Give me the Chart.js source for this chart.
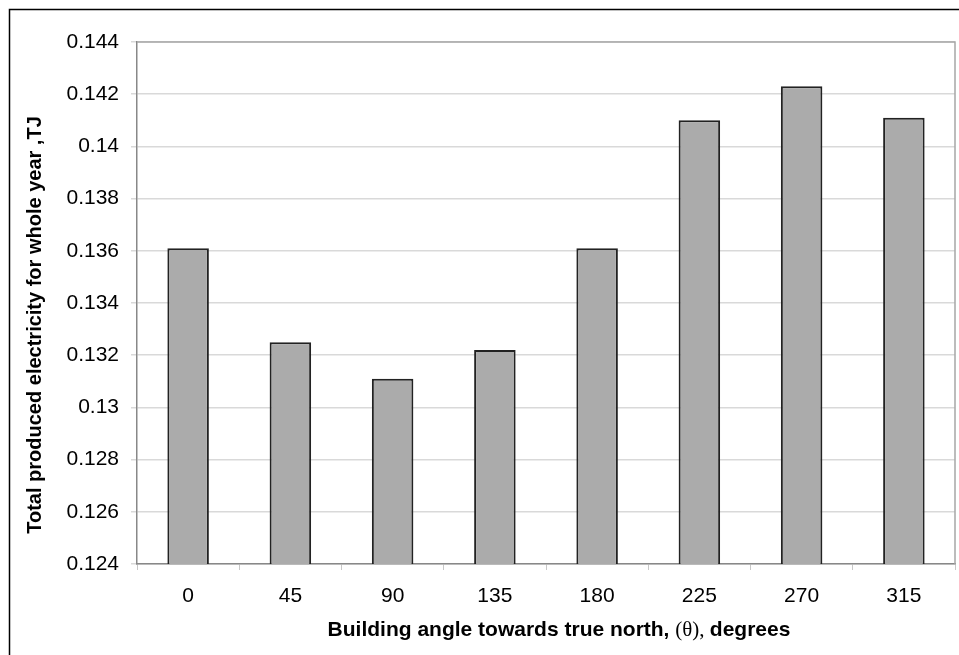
<!DOCTYPE html>
<html>
<head>
<meta charset="utf-8">
<script src="https://cdn.jsdelivr.net/npm/chart.js@4/dist/chart.umd.min.js"></script>
<style>
  html, body { margin: 0; padding: 0; background: #fff; }
  #wrap { width: 959px; height: 655px; position: relative; }
</style>
</head>
<body>
<div id="wrap"><canvas id="c" width="959" height="655"></canvas></div>
<script>
// Building orientation (degrees from true north)
const angles = ['0', '45', '90', '135', '180', '225', '270', '315'];
// Total produced electricity for the whole year, TJ
const electricity = [0.1361, 0.1325, 0.1311, 0.1322, 0.1361, 0.1410, 0.1423, 0.1411];
// Value axis range
const yMin = 0.124;
const yMax = 0.144;
const yStep = 0.002;

const yTitle = 'Total produced electricity for whole year ,TJ';
const xTitleParts = [
  { text: 'Building angle towards true north, ', font: 'bold 21px "Liberation Sans", Arial, sans-serif' },
  { text: '(θ), ', font: '21px "Liberation Serif", "Times New Roman", serif' },
  { text: 'degrees', font: 'bold 21px "Liberation Sans", Arial, sans-serif' }
];

// Outer frame, plot border and axis titles
const decor = {
  id: 'decor',
  beforeDraw(chart) {
    const ctx = chart.ctx;
    ctx.save();
    ctx.fillStyle = '#fff';
    ctx.fillRect(0, 0, chart.width, chart.height);
    ctx.strokeStyle = '#000';
    ctx.lineWidth = 1.5;
    ctx.beginPath();
    ctx.moveTo(9.5, chart.height);
    ctx.lineTo(9.5, 9.5);
    ctx.lineTo(chart.width, 9.5);
    ctx.stroke();
    ctx.restore();
  },
  afterDraw(chart) {
    const ctx = chart.ctx;
    const a = chart.chartArea;
    ctx.save();
    // plot frame (top and right)
    ctx.strokeStyle = '#a6a6a6';
    ctx.lineWidth = 1.5;
    ctx.beginPath();
    ctx.moveTo(a.left, a.top);
    ctx.lineTo(a.right, a.top);
    ctx.lineTo(a.right, a.bottom);
    ctx.stroke();

    // y axis title
    ctx.fillStyle = '#000';
    ctx.font = 'bold 20px "Liberation Sans", Arial, sans-serif';
    ctx.textAlign = 'center';
    ctx.textBaseline = 'middle';
    ctx.translate(35, 325);
    ctx.rotate(-Math.PI / 2);
    ctx.fillText(yTitle, 0, 0);
    ctx.setTransform(1, 0, 0, 1, 0, 0);

    // x axis title with mixed fonts
    let total = 0;
    xTitleParts.forEach(p => { ctx.font = p.font; p.w = ctx.measureText(p.text).width; total += p.w; });
    let x = 559 - total / 2;
    ctx.textAlign = 'left';
    ctx.textBaseline = 'alphabetic';
    xTitleParts.forEach(p => { ctx.font = p.font; ctx.fillText(p.text, x, 636); x += p.w; });
    ctx.restore();
  }
};

new Chart(document.getElementById('c'), {
  type: 'bar',
  data: {
    labels: angles,
    datasets: [{
      data: electricity,
      backgroundColor: '#ababab',
      borderColor: '#222',
      borderWidth: 2,
      barPercentage: 0.406,
      categoryPercentage: 1.0
    }]
  },
  options: {
    responsive: false,
    animation: false,
    devicePixelRatio: 1,
    layout: { padding: { left: 0, top: 42, right: 4, bottom: 0 } },
    plugins: { legend: { display: false }, tooltip: { enabled: false }, title: { display: false } },
    scales: {
      x: {
        afterFit(scale) { scale.height = 91; },
        grid: {
          offset: true,
          drawOnChartArea: false,
          color: '#c8c8c8',
          tickLength: 6
        },
        border: { color: '#888', width: 1.5 },
        ticks: {
          color: '#000',
          padding: 14,
          font: { family: '"Liberation Sans", Arial, sans-serif', size: 21 }
        }
      },
      y: {
        min: yMin,
        max: yMax,
        afterFit(scale) { scale.width = 137; },
        grid: { color: '#d9d9d9', lineWidth: 1.5, tickLength: 6 },
        border: { color: '#888', width: 1.5 },
        ticks: {
          stepSize: yStep,
          color: '#000',
          padding: 12,
          font: { family: '"Liberation Sans", Arial, sans-serif', size: 21 },
          callback: v => String(parseFloat(v.toFixed(3)))
        }
      }
    }
  },
  plugins: [decor]
});
</script>
</body>
</html>
